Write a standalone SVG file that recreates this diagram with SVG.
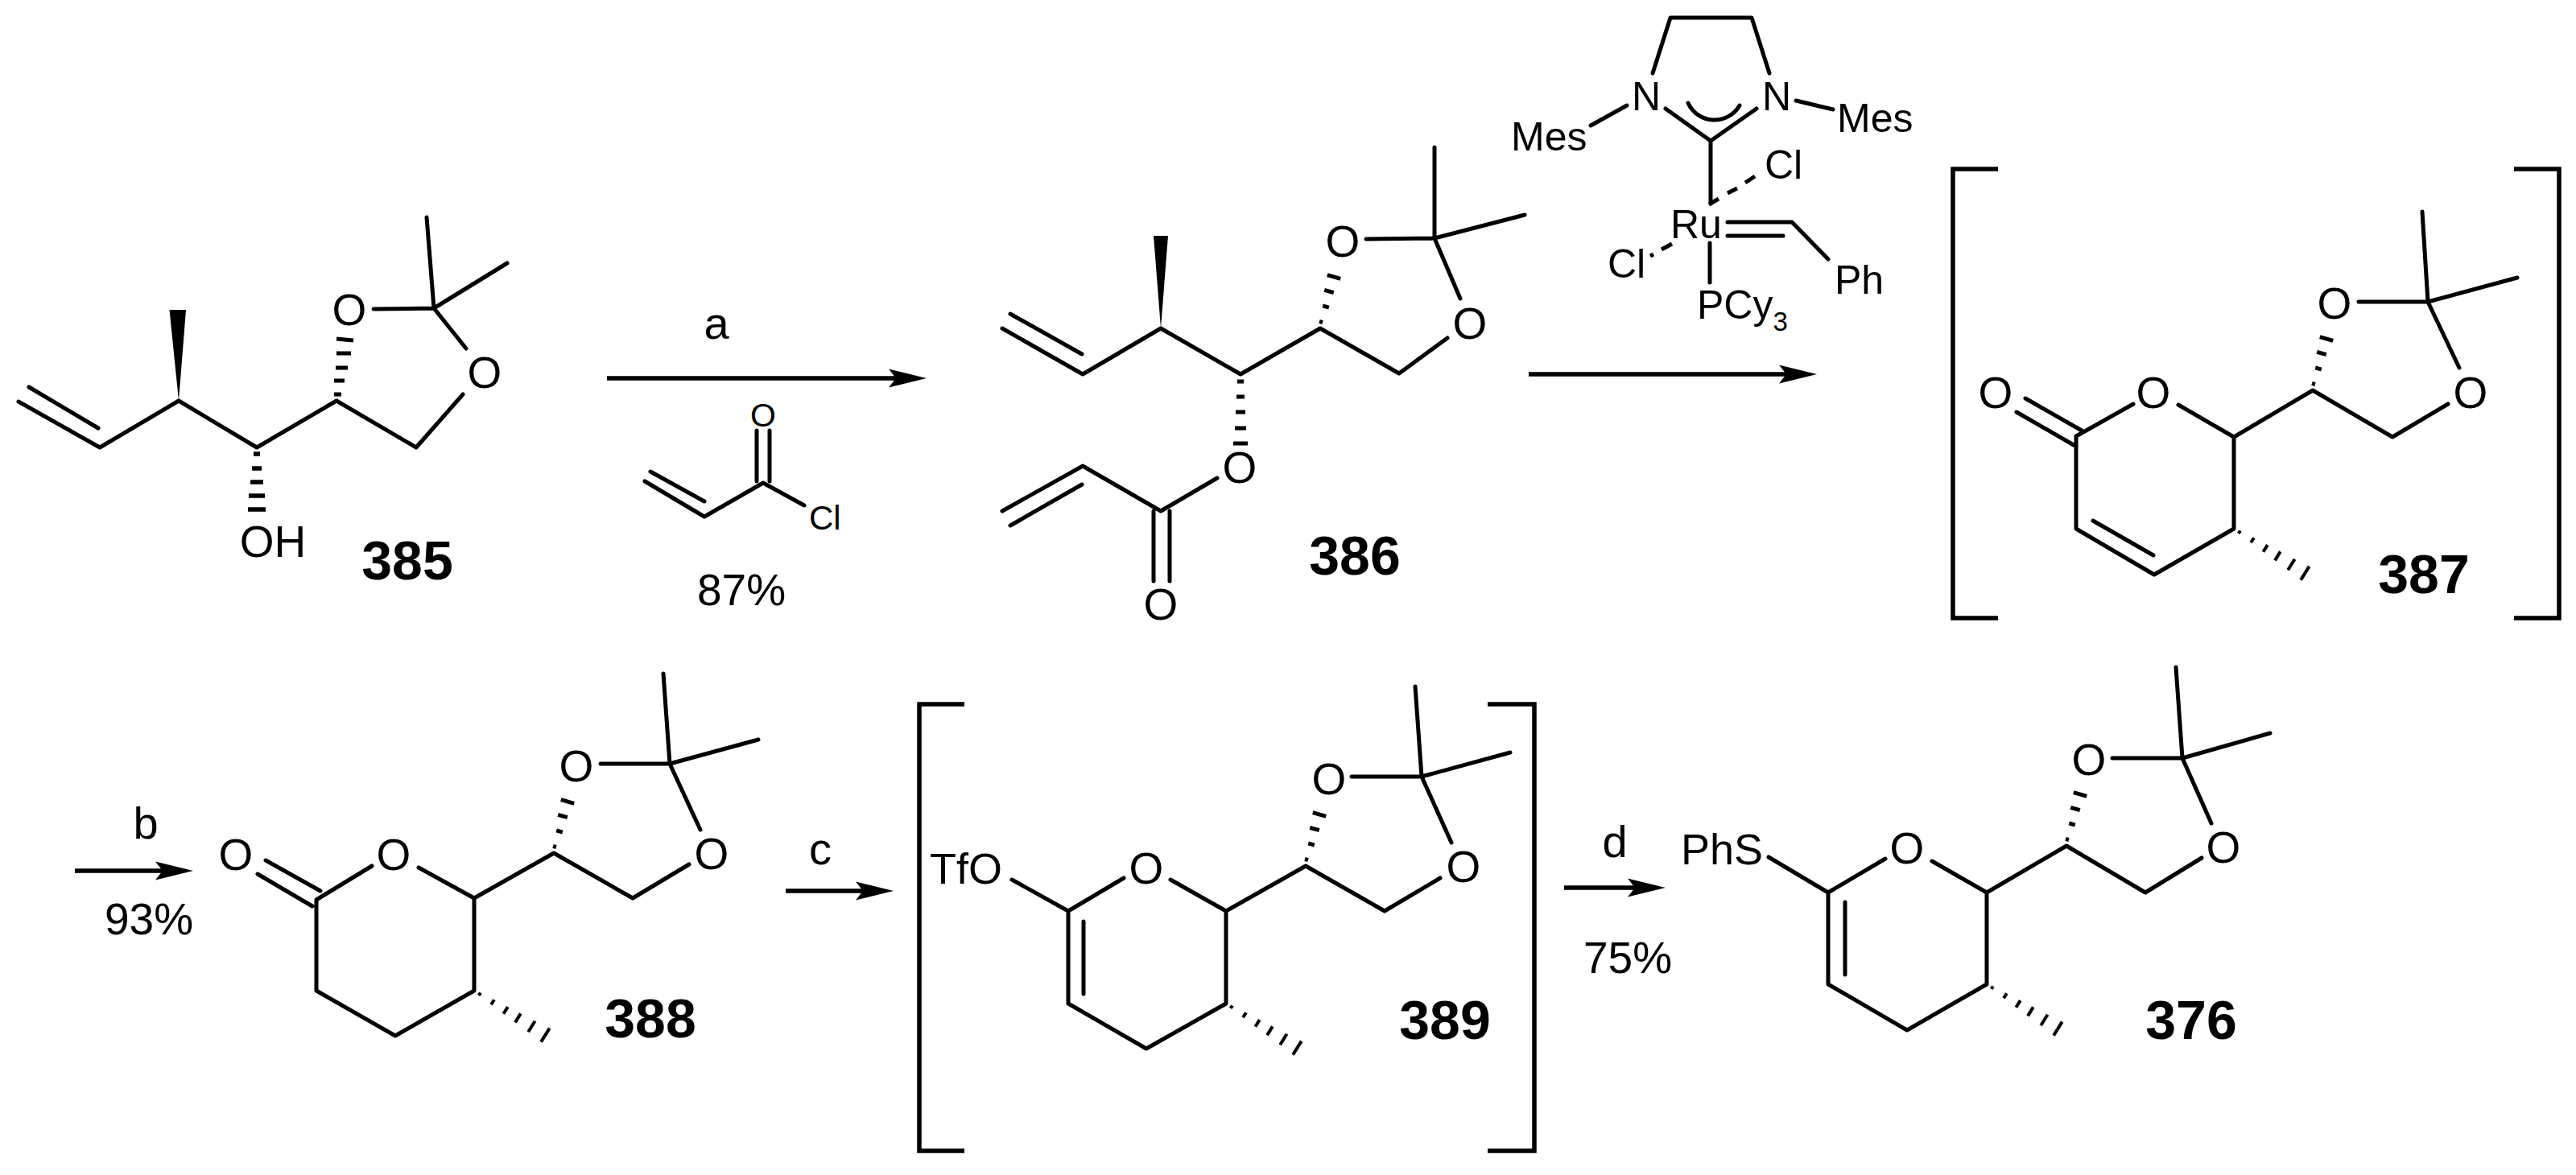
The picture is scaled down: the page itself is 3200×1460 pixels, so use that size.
<svg xmlns="http://www.w3.org/2000/svg" xmlns:xlink="http://www.w3.org/1999/xlink" width="3200" height="1460" viewBox="0 0 3200 1460">
<style>
.b{fill:none;stroke:#000;stroke-width:5;stroke-linecap:round;stroke-linejoin:round}
.h{fill:none;stroke:#000;stroke-width:4;stroke-linecap:butt}
.k{fill:none;stroke:#000;stroke-width:5.5;stroke-linecap:butt;stroke-linejoin:miter}
.w{fill:#000;stroke:none}
text{font-family:"Liberation Sans",Arial,sans-serif;fill:#000}
.o{font-size:55px;text-anchor:middle}
.c{font-size:50px}
.s{font-size:42px}
.n{font-size:68px;font-weight:bold;text-anchor:middle}
.m{font-size:55px;text-anchor:middle}
.a{fill:none;stroke:#000;stroke-width:5.5;marker-end:url(#head)}
</style>
<defs>
<marker id="head" markerUnits="userSpaceOnUse" markerWidth="47" markerHeight="24" viewBox="0 0 47 24" refX="10" refY="12" orient="auto">
<polygon points="47,12 0,0.5 9,12 0,23.5" fill="#000"/>
</marker>
<path id="me" class="h" d="M7.9,2.5L5.7,5.9M24.9,11.3L21.1,17.3M41.8,20.1L36.4,28.7M57.8,28.4L51,39.4M75.6,37.7L67.2,51.3M93.7,46.6L83.1,63.6"/>
<path id="dx" class="h" d="M-1,-8.6L3,-7.4M3.2,-28.1L10.8,-25.9M5.2,-47.7L16.8,-44.3M8.8,-66.4L25.2,-61.6" style="stroke-width:5"/>
</defs>
<g id="connectors">
<path class="a" d="M754,470H1114"/>
<path class="a" d="M1899,465H2220"/>
<path class="a" d="M93,1082H203"/>
<path class="a" d="M976,1107H1073"/>
<path class="a" d="M1943,1103H2032"/>
</g>
<g id="reagents">
<text class="m" x="890" y="421" style="font-size:56px">a</text>
<text class="m" x="921" y="752">87%</text>
<text class="m" x="181" y="1042" style="font-size:56px">b</text>
<text class="m" x="185" y="1161">93%</text>
<text class="m" x="1019" y="1074" style="font-size:56px">c</text>
<text class="m" x="2006" y="1065" style="font-size:56px">d</text>
<text class="m" x="2022" y="1209">75%</text>
</g>
<g id="acryloyl-chloride">
<path class="b" d="M801,598L875,642L948,600L999,628M808,586L875,623M940,598V535M956,598V535"/>
<text class="o" x="948" y="530" style="font-size:41px">O</text>
<text class="s" x="1005" y="658">Cl</text>
</g>
<g id="mol-385">
<path class="b" d="M23,499L124,556L222,498L319,556L418,498L517,556L575,490M36,481L122,532M464,384L539,383L530,270M539,383L630,327M539,383L579,433"/>
<polygon class="w" points="222,498 210.5,385 231,385"/>
<path class="h" style="stroke-width:5.5" d="M315,564H323M313,582H325M311,599H327M309,616H329M308,633H330"/>
<path class="h" style="stroke-width:5" d="M415,490H424M415,473H428M417,457H432M418,439H436M418,421L439,423"/>
<text class="o" x="434" y="404">O</text>
<text class="o" x="602" y="482">O</text>
<text class="o" x="339" y="692">OH</text>
<text class="n" x="506" y="720">385</text>
</g>
<g id="mol-386">
<path class="b" d="M1245,408L1345,465L1442,408L1541,465L1640,408L1738,464L1798,420M1255,390L1344,440M1697,297L1782,296V183M1782,296L1894,267M1782,296L1814,371M1512,594L1442,635L1345,579L1245,635M1344,602L1255,653M1433,635V722M1453,635V722"/>
<polygon class="w" points="1442,408 1433,293 1451,293"/>
<path class="h" style="stroke-width:5" d="M1537,474H1545M1536,493H1546M1535,512H1547M1534,532H1548M1532,551H1550"/>
<use xlink:href="#dx" href="#dx" transform="translate(1640,408)"/>
<text class="o" x="1668" y="319">O</text>
<text class="o" x="1826" y="421">O</text>
<text class="o" x="1540" y="600">O</text>
<text class="o" x="1442" y="770">O</text>
<text class="n" x="1683" y="714">386</text>
</g>
<g id="catalyst">
<path class="b" d="M2053,91L2075,22H2176L2198,91M1976,156L2021,131M2231,125L2277,136M2069,135L2125,175L2182,135M2125,175V253M2146,276H2226L2271,322M2146,293H2215M2124,302V351M2097,128A36,36 0 0 0 2161,131"/>
<path class="b" style="stroke-linecap:butt" d="M2123,254L2135,247M2146,240L2158,234M2168,227L2180,219M2064,310L2077,303M2050,318L2054,316"/>
<text class="c" x="2045" y="137" text-anchor="middle">N</text>
<text class="c" x="2207" y="137" text-anchor="middle">N</text>
<text class="c" x="1877" y="187">Mes</text>
<text class="c" x="2282" y="164">Mes</text>
<text class="c" x="2192" y="222">Cl</text>
<text class="c" x="2075" y="296">Ru</text>
<text class="c" x="1997" y="345">Cl</text>
<text class="c" x="2279" y="365">Ph</text>
<text class="c" x="2108" y="396">PCy<tspan style="font-size:33px" dy="15">3</tspan></text>
</g>
<g id="mol-387">
<path class="k" d="M2482,210H2426V768H2482M3123,210H3179V768H3123"/>
<path class="b" d="M2516,495L2586,535M2505,512L2576,553M2650,502L2579,542V657L2676,714L2775,657V543L2706,503M2600,647L2675,690M2775,543L2873,485L2972,543L3041,502M2930,375H3016L3009,263M3016,375L3127,345M3016,375L3055,457"/>
<use xlink:href="#dx" href="#dx" transform="translate(2873,485)"/>
<use xlink:href="#me" href="#me" transform="translate(2775,657)"/>
<text class="o" x="2479" y="507">O</text>
<text class="o" x="2675" y="507">O</text>
<text class="o" x="2900" y="396">O</text>
<text class="o" x="3069" y="507">O</text>
<text class="n" x="3011" y="737">387</text>
</g>
<g id="mol-388">
<path class="b" d="M330,1069L398,1107M320,1086L388,1126M462,1076L393,1118V1231L491,1287L589,1231V1116L520,1078M589,1116L688,1060L786,1116L856,1074M746,949H832L824,837M832,949L942,919M832,949L870,1031"/>
<use xlink:href="#dx" href="#dx" transform="translate(688,1060)"/>
<use xlink:href="#me" href="#me" transform="translate(589,1231)"/>
<text class="o" x="293" y="1081">O</text>
<text class="o" x="489" y="1081">O</text>
<text class="o" x="716" y="971">O</text>
<text class="o" x="884" y="1080">O</text>
<text class="n" x="808" y="1289">388</text>
</g>
<g id="mol-389">
<path class="k" d="M1198,875H1142V1430H1198M1848,875H1906V1430H1848"/>
<path class="b" d="M1257,1093L1327,1132L1396,1091M1327,1132V1247L1424,1303L1523,1247V1132L1454,1093M1346,1145V1235M1523,1132L1622,1076L1720,1132L1789,1091M1679,965H1766L1758,853M1766,965L1876,935M1766,965L1803,1047"/>
<use xlink:href="#dx" href="#dx" transform="translate(1622,1076)"/>
<use xlink:href="#me" href="#me" transform="translate(1523,1247)"/>
<text class="o" x="1200" y="1098" style="font-size:54px">TfO</text>
<text class="o" x="1424" y="1098">O</text>
<text class="o" x="1651" y="987">O</text>
<text class="o" x="1818" y="1096">O</text>
<text class="n" x="1795" y="1291">389</text>
</g>
<g id="mol-376">
<path class="b" d="M2197,1065L2271,1109L2342,1067M2271,1109V1223L2369,1280L2468,1223V1109L2400,1070M2292,1121V1211M2468,1109L2567,1051L2665,1109L2735,1066M2624,942H2711L2703,829M2711,942L2820,911M2711,942L2747,1023"/>
<use xlink:href="#dx" href="#dx" transform="translate(2567,1051)"/>
<use xlink:href="#me" href="#me" transform="translate(2468,1223)"/>
<text class="o" x="2139" y="1074" style="font-size:54px">PhS</text>
<text class="o" x="2369" y="1073">O</text>
<text class="o" x="2595" y="963">O</text>
<text class="o" x="2762" y="1072">O</text>
<text class="n" x="2722" y="1291">376</text>
</g>
</svg>
